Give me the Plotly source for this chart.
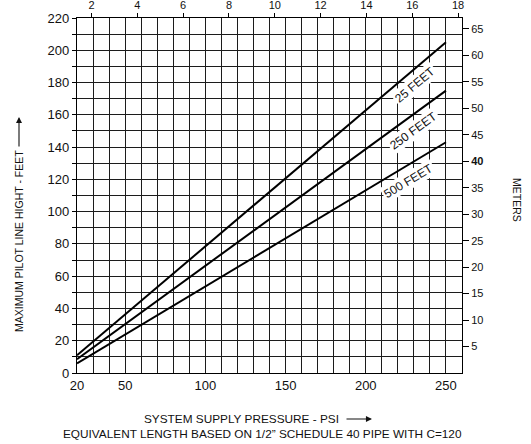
import math
import plotly.graph_objects as go

# Supply pressure (psi) at the two ends of each curve
pressure_psi = [20, 250]

# Maximum pilot line height (feet) for each equivalent pipe length
height_25ft = [11, 205]
height_250ft = [8.5, 175]
height_500ft = [6, 143]

series_names = ["25 FEET", "250 FEET", "500 FEET"]
series_values = [height_25ft, height_250ft, height_500ft]

x_tickvals = [20, 50, 100, 150, 200, 250]
y_tickvals = [0, 20, 40, 60, 80, 100, 120, 140, 160, 180, 200, 220]
bar_tickvals = [2, 4, 6, 8, 10, 12, 14, 16, 18]
meter_tickvals = [5, 10, 15, 20, 25, 30, 35, 40, 45, 50, 55, 60, 65]

X_RANGE = [20, 260]
Y_RANGE = [0, 220]
BAR_RANGE = [1.37, 18.17]
FT_TO_M = 0.3048

W, H = 531, 444
M_L, M_R, M_T, M_B = 77, 69, 18, 71
plot_w = W - M_L - M_R
plot_h = H - M_T - M_B
px_per_x = plot_w / (X_RANGE[1] - X_RANGE[0])
px_per_y = plot_h / (Y_RANGE[1] - Y_RANGE[0])


def paper_x(px):
    return (px - M_L) / plot_w


def paper_y(py):
    return (H - M_B - py) / plot_h


FONT = "Liberation Sans"
INK = "#111111"
GRID = "#1c1c1c"

fig = go.Figure()

for name, vals in zip(series_names, series_values):
    fig.add_trace(go.Scatter(
        x=pressure_psi, y=vals, mode="lines", name=name,
        line=dict(color="black", width=2), showlegend=False,
        hoverinfo="skip",
    ))

# Labels sit just under each line, rotated to follow it
label_x = [230.5, 229.5, 226.5]
label_drop = 10
for name, vals, lx in zip(series_names, series_values, label_x):
    slope = (vals[1] - vals[0]) / (pressure_psi[1] - pressure_psi[0])
    ly = vals[0] + slope * (lx - pressure_psi[0]) - label_drop
    angle = -math.degrees(math.atan(slope * px_per_y / px_per_x))
    fig.add_annotation(
        x=lx, y=ly, xref="x", yref="y", text=name, showarrow=False,
        textangle=angle, bgcolor="white", borderpad=1,
        xanchor="center", yanchor="middle",
        font=dict(family=FONT, size=12, color=INK),
    )

# Invisible traces to activate the secondary axes
fig.add_trace(go.Scatter(x=BAR_RANGE, y=Y_RANGE, xaxis="x2", yaxis="y",
                         mode="lines", line=dict(width=0), showlegend=False,
                         hoverinfo="skip", opacity=0))
fig.add_trace(go.Scatter(x=X_RANGE, y=[0, Y_RANGE[1] * FT_TO_M], xaxis="x", yaxis="y2",
                         mode="lines", line=dict(width=0), showlegend=False,
                         hoverinfo="skip", opacity=0))

meter_text = ["<b>%d</b>" % v if v == 40 else str(v) for v in meter_tickvals]

fig.update_layout(
    width=W, height=H,
    margin=dict(l=M_L, r=M_R, t=M_T, b=M_B),
    paper_bgcolor="white", plot_bgcolor="white",
    font=dict(family=FONT, color=INK),
    xaxis=dict(
        range=X_RANGE, tickvals=x_tickvals, ticks="", showgrid=True,
        gridcolor=GRID, gridwidth=1.2, automargin=False,
        minor=dict(tick0=20, dtick=10, showgrid=True, gridcolor=GRID, gridwidth=1.2),
        showline=True, linecolor="black", linewidth=1.3, mirror=True,
        tickfont=dict(size=13), zeroline=False, fixedrange=True,
    ),
    yaxis=dict(
        range=Y_RANGE, tickvals=y_tickvals, ticks="outside", ticklen=4,
        tickcolor="black", tickwidth=1.2, automargin=False,
        showgrid=True, gridcolor=GRID, gridwidth=1.2,
        minor=dict(tick0=0, dtick=10, showgrid=True, gridcolor=GRID, gridwidth=1.2,
                   ticks="outside", ticklen=4, tickcolor="black", tickwidth=1.2),
        showline=True, linecolor="black", linewidth=1.3, mirror=True,
        tickfont=dict(size=13), zeroline=False, fixedrange=True,
    ),
    xaxis2=dict(
        range=BAR_RANGE, overlaying="x", side="top", tickvals=bar_tickvals,
        ticks="outside", ticklen=4, tickcolor="black", tickwidth=1.2,
        showgrid=False, zeroline=False, tickfont=dict(size=11),
        fixedrange=True, automargin=False,
    ),
    yaxis2=dict(
        range=[0, Y_RANGE[1] * FT_TO_M], overlaying="y", side="right",
        tickvals=meter_tickvals, ticktext=meter_text,
        ticks="outside", ticklen=6, tickcolor="black", tickwidth=1.2,
        showgrid=False, zeroline=False, tickfont=dict(size=11),
        fixedrange=True, automargin=False,
    ),
)

# Axis titles with their arrows
title_font = dict(family=FONT, size=11.8, color=INK)
fig.add_annotation(
    xref="paper", yref="paper", x=paper_x(241), y=paper_y(419),
    xanchor="center", yanchor="middle",
    text="SYSTEM SUPPLY PRESSURE - PSI", showarrow=False, font=title_font,
)
fig.add_annotation(
    xref="paper", yref="paper", x=paper_x(262), y=paper_y(434),
    xanchor="center", yanchor="middle",
    text="EQUIVALENT LENGTH BASED ON 1/2\u201d SCHEDULE 40 PIPE WITH C=120",
    showarrow=False, font=title_font,
)
fig.add_annotation(
    xref="paper", yref="paper", x=paper_x(19), y=paper_y(241),
    xanchor="center", yanchor="middle",
    text="MAXIMUM PILOT LINE HIGHT - FEET", textangle=-90, showarrow=False,
    font=dict(family=FONT, size=10.5, color=INK),
)
fig.add_annotation(
    xref="paper", yref="paper", x=paper_x(517), y=paper_y(200),
    xanchor="center", yanchor="middle",
    text="METERS", textangle=90, showarrow=False,
    font=dict(family=FONT, size=10.5, color=INK),
)
# x-title arrow
fig.add_annotation(
    xref="paper", yref="paper", x=paper_x(372), y=paper_y(419),
    ax=-27, ay=0, text="", showarrow=True, arrowhead=2, arrowsize=1.1,
    arrowwidth=1.1, arrowcolor=INK,
)
# y-title arrow
fig.add_annotation(
    xref="paper", yref="paper", x=paper_x(19), y=paper_y(117),
    ax=0, ay=31, text="", showarrow=True, arrowhead=2, arrowsize=1.1,
    arrowwidth=1.1, arrowcolor=INK,
)

fig.write_html("out.html")
